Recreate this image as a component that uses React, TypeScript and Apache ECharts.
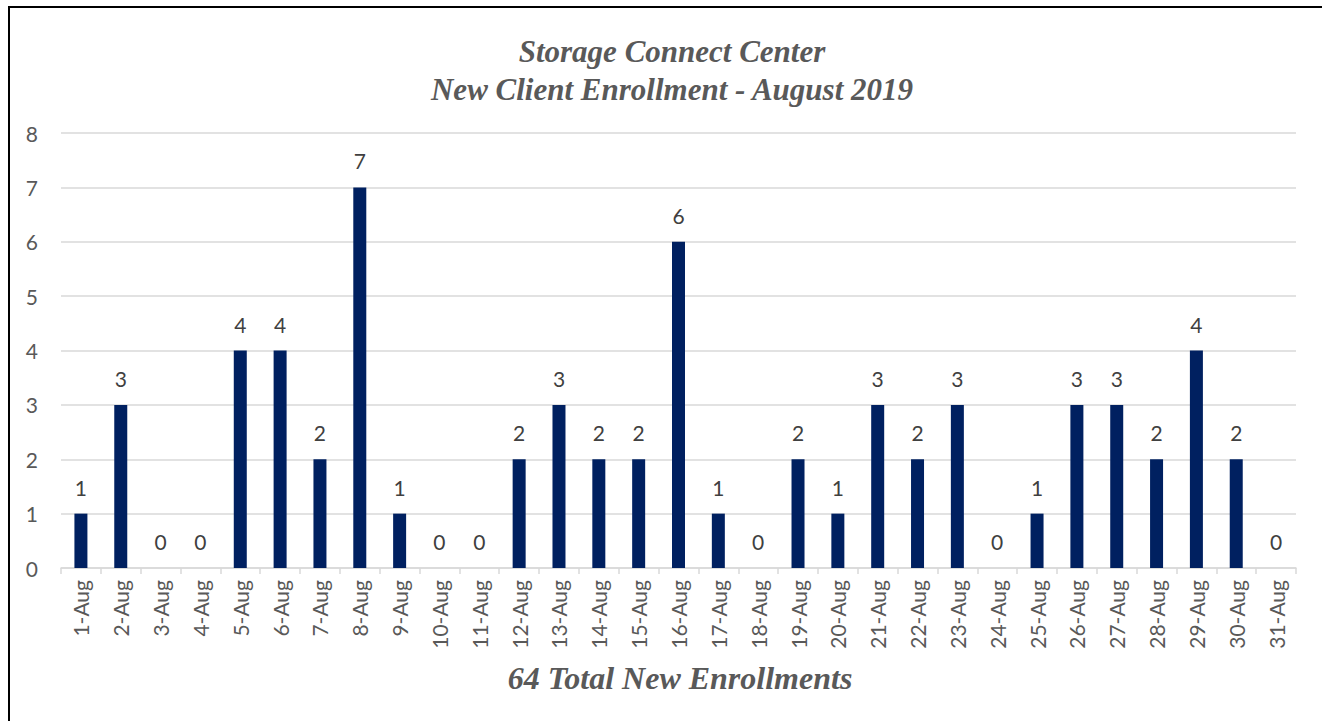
import React, { useEffect, useRef } from "react";
import * as echarts from "echarts";

const categories = [
  "1-Aug", "2-Aug", "3-Aug", "4-Aug", "5-Aug", "6-Aug", "7-Aug", "8-Aug", "9-Aug", "10-Aug",
  "11-Aug", "12-Aug", "13-Aug", "14-Aug", "15-Aug", "16-Aug", "17-Aug", "18-Aug", "19-Aug", "20-Aug",
  "21-Aug", "22-Aug", "23-Aug", "24-Aug", "25-Aug", "26-Aug", "27-Aug", "28-Aug", "29-Aug", "30-Aug",
  "31-Aug",
];
const enrollments = [
  1, 3, 0, 0, 4, 4, 2, 7, 1, 0,
  0, 2, 3, 2, 2, 6, 1, 0, 2, 1,
  3, 2, 3, 0, 1, 3, 3, 2, 4, 2,
  0,
];
const titleLines = ["Storage Connect Center", "New Client Enrollment - August 2019"];
const footerText = "64 Total New Enrollments";

export default function App() {
  const ref = useRef<HTMLDivElement>(null);
  useEffect(() => {
    if (!ref.current) return;
    const chart = echarts.init(ref.current, null, { renderer: "svg" });
    const sans = "Lato, 'Liberation Sans', sans-serif";
    const serif = "'Liberation Serif', 'Times New Roman', serif";
    chart.setOption({
      animation: false,
      backgroundColor: "#ffffff",
      title: {
        text: titleLines.join("\n"),
        left: 667,
        textAlign: "center",
        top: 27,
        textStyle: {
          fontFamily: serif,
          fontStyle: "italic",
          fontWeight: "bold",
          fontSize: 31,
          lineHeight: 38,
          color: "#595959",
        },
      },
      graphic: [
        {
          type: "rect",
          shape: { x: 9, y: 7, width: 1400, height: 800 },
          style: { fill: "none", stroke: "#000000", lineWidth: 2 },
          silent: true,
        },
        {
          type: "text",
          x: 680,
          y: 678,
          style: {
            text: footerText,
            fontFamily: serif,
            fontStyle: "italic",
            fontWeight: "bold",
            fontSize: 32,
            fill: "#595959",
            align: "center",
            verticalAlign: "middle",
          },
        },
      ],
      grid: { left: 61, right: 26, top: 133, bottom: 153 },
      xAxis: {
        type: "category",
        data: categories,
        axisLine: { lineStyle: { color: "#d9d9d9", width: 1.5 } },
        axisTick: { show: true, length: 6, lineStyle: { color: "#d9d9d9", width: 1.5 } },
        axisLabel: {
          rotate: 90,
          color: "#595959",
          fontFamily: sans,
          fontSize: 21,
          margin: 12,
          interval: 0,
        },
      },
      yAxis: {
        type: "value",
        min: 0,
        max: 8,
        interval: 1,
        axisLine: { show: false },
        axisTick: { show: false },
        axisLabel: { color: "#595959", fontFamily: sans, fontSize: 21, margin: 23 },
        splitLine: { lineStyle: { color: "#d9d9d9", width: 1.5 } },
      },
      series: [
        {
          type: "bar",
          data: enrollments,
          barWidth: 13,
          itemStyle: { color: "#002060" },
          label: {
            show: true,
            position: "top",
            distance: 16,
            color: "#404040",
            fontFamily: sans,
            fontSize: 21,
          },
        },
      ],
    });
    return () => chart.dispose();
  }, []);
  return (
    <div
      ref={ref}
      style={{ position: "fixed", left: 0, top: 0, width: 1322, height: 721 }}
    />
  );
}
